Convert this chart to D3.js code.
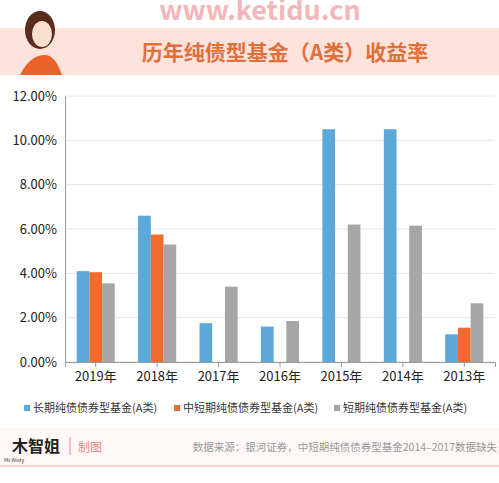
<!DOCTYPE html>
<html><head><meta charset="utf-8">
<script src="https://cdn.jsdelivr.net/npm/d3@7"></script>
<style>body{margin:0;background:#fff}text{font-family:"Noto Sans CJK SC","Noto Sans",sans-serif}</style>
</head><body><svg id="c" width="499" height="483"></svg>
<script>
const years = ["2019年","2018年","2017年","2016年","2015年","2014年","2013年"];
const seriesNames = ["长期纯债债券型基金(A类)","中短期纯债债券型基金(A类)","短期纯债债券型基金(A类)"];
const longTerm = [4.1, 6.6, 1.75, 1.6, 10.5, 10.5, 1.25];
const midShort = [4.05, 5.75, null, null, null, null, 1.55];
const shortTerm = [3.55, 5.3, 3.4, 1.85, 6.2, 6.15, 2.65];
const yTicks = [0, 2, 4, 6, 8, 10, 12];
const colors = ["#5ba8d9", "#f06b2d", "#a6a6a6"];

const svg = d3.select("#c");
// header
svg.append("text").attr("x", 260).attr("y", 20).attr("text-anchor", "middle")
  .attr("font-size", 27).attr("font-weight", "bold").attr("fill", "#f4b6b8")
  .attr("font-family", "DejaVu Sans").text("www.ketidu.cn");
svg.append("rect").attr("x", 0).attr("y", 28).attr("width", 499).attr("height", 47).attr("fill", "#fde3dc");
svg.append("text").attr("x", 285).attr("y", 60).attr("text-anchor", "middle")
  .attr("font-size", 21).attr("font-weight", "bold").attr("fill", "#e0703a").text("历年纯债型基金（A类）收益率");
// avatar placeholder
svg.append("path").attr("d", "M20,75 Q30,55 45,55 Q55,55 62,75 Z").attr("fill", "#e8622a");
svg.append("ellipse").attr("cx", 40).attr("cy", 30).attr("rx", 15).attr("ry", 19).attr("fill", "#5a2c1c");
svg.append("ellipse").attr("cx", 42).attr("cy", 34).attr("rx", 10).attr("ry", 13).attr("fill", "#fbe0cf");

const m = {left: 65, right: 495, top: 96, bottom: 362};
const x0 = d3.scaleBand().domain(years).range([m.left, m.right]).paddingInner(0).paddingOuter(0);
const x1 = d3.scaleBand().domain([0, 1, 2]).range([x0.bandwidth() * 0.19, x0.bandwidth() * 0.81]);
const y = d3.scaleLinear().domain([0, 12]).range([m.bottom, m.top]);

svg.append("g").selectAll("line").data(yTicks).join("line")
  .attr("x1", m.left).attr("x2", m.right).attr("y1", d => y(d)).attr("y2", d => y(d))
  .attr("stroke", "#e4e4e4");

const all = [longTerm, midShort, shortTerm];
years.forEach((yr, i) => {
  const g = svg.append("g").attr("transform", `translate(${x0(yr)},0)`);
  g.selectAll("rect").data(all.map((s, k) => ({k, v: s[i]})).filter(d => d.v != null)).join("rect")
    .attr("x", d => x1(d.k)).attr("width", x1.bandwidth())
    .attr("y", d => y(d.v)).attr("height", d => y(0) - y(d.v)).attr("fill", d => colors[d.k]);
});

const ya = svg.append("g").attr("transform", `translate(${m.left},0)`)
  .call(d3.axisLeft(y).tickValues(yTicks).tickFormat(d => d.toFixed(2) + "%").tickSize(0).tickPadding(8));
ya.select(".domain").attr("stroke", "#999");
ya.selectAll("text").attr("font-size", 13).attr("fill", "#222");
const xa = svg.append("g").attr("transform", `translate(0,${m.bottom})`)
  .call(d3.axisBottom(x0).tickSize(5).tickPadding(5));
xa.select(".domain").attr("stroke", "#999");
xa.selectAll("line").attr("stroke", "#999");
xa.selectAll("text").attr("font-size", 13).attr("fill", "#222");

// legend
const lx = [24, 174, 334];
const lg = svg.append("g").selectAll("g").data(seriesNames).join("g")
  .attr("transform", (d, i) => `translate(${lx[i]},412)`);
lg.append("rect").attr("width", 6).attr("height", 6).attr("y", -7).attr("fill", (d, i) => colors[i]);
lg.append("text").attr("x", 9).attr("font-size", 11).attr("fill", "#333").text(d => d);

// footer
svg.append("rect").attr("x", 0).attr("y", 428).attr("width", 499).attr("height", 38).attr("fill", "#fff8f6");
svg.append("line").attr("x1", 0).attr("x2", 499).attr("y1", 466).attr("y2", 466).attr("stroke", "#f6d3d0").attr("stroke-width", 2);
svg.append("text").attr("x", 12).attr("y", 452).attr("font-size", 16).attr("font-weight", "bold").attr("fill", "#222").text("木智姐");
svg.append("text").attr("x", 4).attr("y", 462).attr("font-size", 5).attr("fill", "#333").text("Ms Wisty");
svg.append("line").attr("x1", 70).attr("x2", 70).attr("y1", 437).attr("y2", 455).attr("stroke", "#e88a80");
svg.append("text").attr("x", 78).attr("y", 452).attr("font-size", 12).attr("fill", "#e88a80").text("制图");
svg.append("text").attr("x", 497).attr("y", 451).attr("text-anchor", "end").attr("font-size", 10.5).attr("fill", "#999")
  .text("数据来源：银河证券，中短期纯债债券型基金2014–2017数据缺失");
</script></body></html>
